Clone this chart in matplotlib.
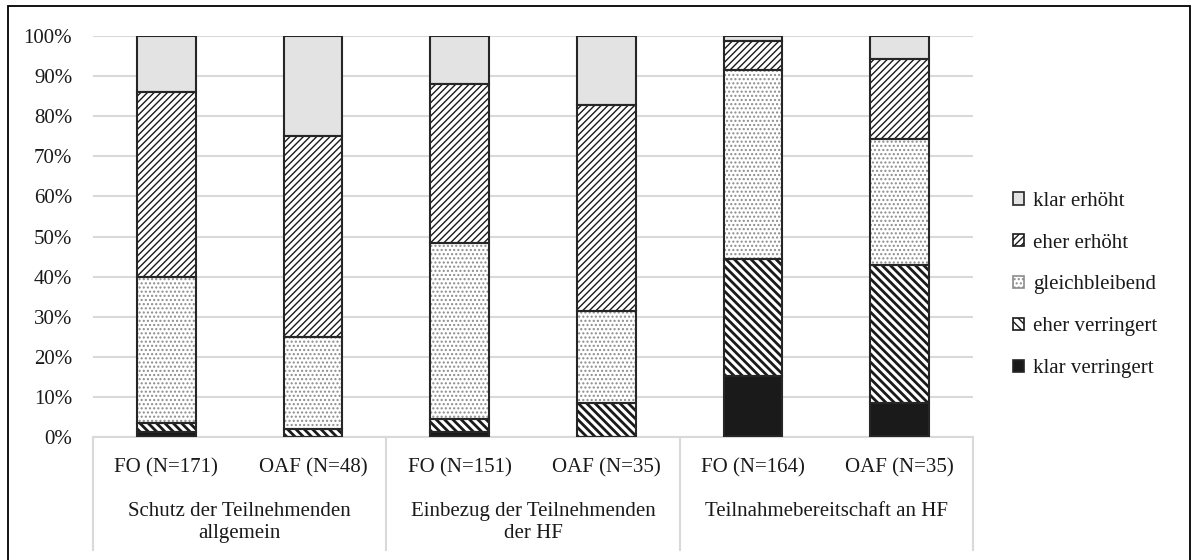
import numpy as np
import matplotlib
matplotlib.use("Agg")
import matplotlib.pyplot as plt
from matplotlib.patches import Patch, Rectangle
import matplotlib.transforms as mtransforms

plt.rcParams['font.family'] = ['Liberation Serif', 'DejaVu Serif']
plt.rcParams['font.size'] = 15

# data (percent of answers)
bar_labels = ["FO (N=171)", "OAF (N=48)", "FO (N=151)", "OAF (N=35)", "FO (N=164)", "OAF (N=35)"]
groups = ["Schutz der Teilnehmenden\nallgemein", "Einbezug der Teilnehmenden\nder HF", "Teilnahmebereitschaft an HF"]
series = ["klar verringert", "eher verringert", "gleichbleibend", "eher erhöht", "klar erhöht"]
klar_verringert = [1.2, 0.0, 1.3, 0.0, 15.2, 8.6]
eher_verringert = [2.3, 2.1, 3.3, 8.6, 29.3, 34.3]
gleichbleibend = [36.3, 22.9, 43.7, 22.9, 47.0, 31.4]
eher_erhoeht = [46.2, 50.0, 39.7, 51.4, 7.3, 20.0]
klar_erhoeht = [14.0, 25.0, 12.0, 17.1, 1.2, 5.7]

values = [klar_verringert, eher_verringert, gleichbleibend, eher_erhoeht, klar_erhoeht]
# facecolor, hatch, hatch color, hatch linewidth
styles = [
    ("#1a1a1a", None, "#1a1a1a", 1.0),
    ("white", "\\\\\\\\", "#1a1a1a", 2.0),
    ("white", "....", "#8c8c8c", 1.0),
    ("white", "/////", "#1a1a1a", 1.0),
    ("#e3e3e3", None, "#262626", 1.0),
]

fig = plt.figure(figsize=(11.92, 5.6), dpi=100)
ax = fig.add_axes([93/1192, 1-437/560, 880/1192, 401/560])

x = np.arange(len(bar_labels))
width = 0.4
bottom = np.zeros(len(x))
handles = []
for vals, name, (fc, hatch, hc, hlw) in zip(values, series, styles):
    vals = np.array(vals)
    with plt.rc_context({'hatch.linewidth': hlw}):
        bars = ax.bar(x, vals, width, bottom=bottom, color=fc, hatch=hatch,
                      edgecolor=hc, linewidth=0, zorder=2)
        for b in bars:
            if hasattr(b, "set_hatch_linewidth"):
                b.set_hatch_linewidth(hlw)
        # outline on top
        ax.bar(x, vals, width, bottom=bottom, fill=False, edgecolor="#262626",
               linewidth=1.5, zorder=3)
        h = Patch(facecolor=fc, hatch=hatch, edgecolor=hc if hatch else "#262626", linewidth=1.2)
        if hasattr(h, "set_hatch_linewidth"):
            h.set_hatch_linewidth(hlw)
    handles.append(h)
    bottom += vals

ax.set_xlim(-0.5, len(x) - 0.5)
ax.set_ylim(0, 100)
ax.set_yticks(np.arange(0, 101, 10))
ax.set_yticklabels([f"{v}%" for v in range(0, 101, 10)])
ax.tick_params(axis='y', length=0, pad=15, labelcolor="#1a1a1a")
ax.set_xticks([])
ax.yaxis.grid(True, color="#d9d9d9", linewidth=1.5, zorder=0)
ax.set_axisbelow(True)
for s in ["left", "right", "top"]:
    ax.spines[s].set_visible(False)
ax.spines["bottom"].set_color("#d9d9d9")
ax.spines["bottom"].set_linewidth(1.5)

trans = mtransforms.blended_transform_factory(ax.transData, ax.transAxes)
for xi, lab in zip(x, bar_labels):
    ax.text(xi, -0.078, lab, transform=trans, ha="center", va="center", color="#1a1a1a")
for gi, g in enumerate(groups):
    ax.text(2 * gi + 0.5, -0.163, g, transform=trans, ha="center", va="top",
            linespacing=1.2, color="#1a1a1a")
for sx in [-0.5, 1.5, 3.5, 5.5]:
    ax.plot([sx, sx], [0, -0.282], transform=trans, color="#d9d9d9", linewidth=1.5, clip_on=False)

leg = fig.legend(handles[::-1], series[::-1], loc="center left",
                 bbox_to_anchor=(1013/1192, 1-285/560), frameon=False,
                 handlelength=0.55, handleheight=0.55, handletextpad=0.4,
                 labelspacing=1.1, borderpad=0, borderaxespad=0)
for t in leg.get_texts():
    t.set_color("#1a1a1a")

fig.patches.append(Rectangle((8/1192, -0.02), 1182/1192, 1.02 - 6/560, transform=fig.transFigure,
                             fill=False, edgecolor="black", linewidth=1.3))

fig.savefig("out.png", dpi=100)
